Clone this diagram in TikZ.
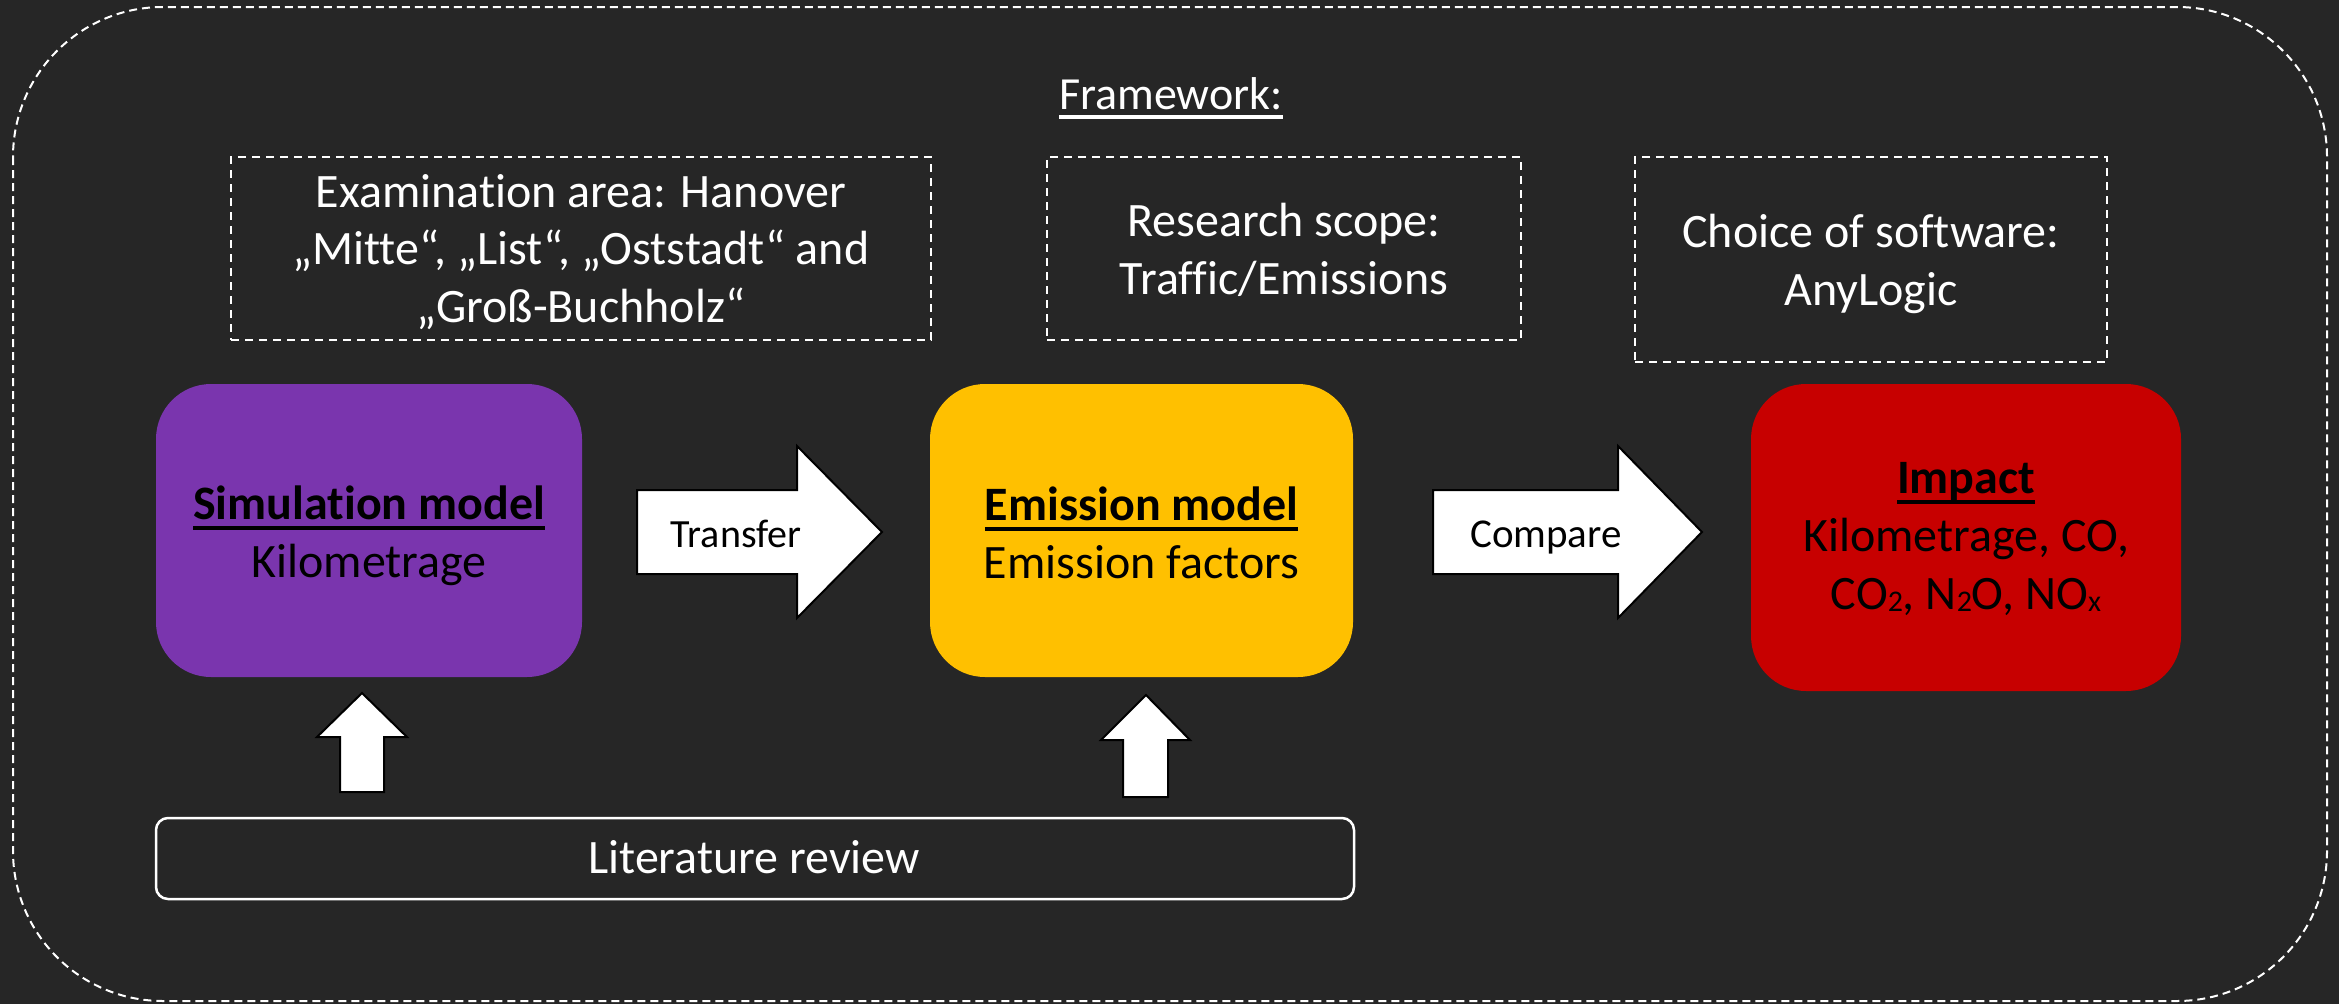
\documentclass[tikz,border=0pt]{standalone}
\usepackage{fontspec}
\setmainfont{Carlito}[Ligatures={NoCommon}]
\definecolor{bgdark}{HTML}{262626}
\definecolor{simpurple}{HTML}{7A35AE}
\definecolor{emyellow}{HTML}{FFC000}
\definecolor{impred}{HTML}{C70000}
% underline at a fixed distance below the baseline
\newcommand\undl[1]{\setbox0\hbox{#1}\leavevmode\rlap{\copy0}\rule[-10pt]{\wd0}{4pt}}
% small subscript sitting near the baseline
\newcommand\subs[1]{\raisebox{-2pt}{\fontsize{30}{30}\selectfont #1}}
\begin{document}
\begin{tikzpicture}[x=1pt,y=-1pt,
  dashbox/.style={draw=white, line width=2pt, dash pattern=on 8pt off 6pt, inner sep=0pt},
  modelbox/.style={rounded corners=55pt, inner sep=0pt},
  whitetext/.style={text=white, align=center, inner sep=0pt, font=\fontsize{48}{57.5}\selectfont},
  blacktext/.style={text=black, align=center, inner sep=0pt, font=\fontsize{48}{58}\selectfont},
  arrowtext/.style={text=black, inner sep=0pt, font=\fontsize{40}{48}\selectfont},
  blockarrow/.style={draw=black, line width=2pt, fill=white, line join=miter}]
\useasboundingbox (0,0) rectangle (2339,1004);
\fill[bgdark] (0,0) rectangle (2339,1004);

% outer framework frame
\draw[white, line width=2pt, dash pattern=on 8pt off 5pt, rounded corners=150pt]
  (13,7) rectangle (2327,1001);
\node[whitetext, anchor=base, font=\fontsize{46}{55}\selectfont] (title) at (1171,109) {\undl{Framework:}};

% framework conditions
\node[dashbox, minimum width=700pt, minimum height=183pt] (exam) at (581,248.5) {};
\node[whitetext] (examtext) at (581,252) {Examination area: Hanover\\„Mitte“, „List“, „Oststadt“ and\\„Groß-Buchholz“};
\node[dashbox, minimum width=474pt, minimum height=183pt] (scope) at (1284,248.5) {};
\node[whitetext, font=\fontsize{48}{58}\selectfont] (scopetext) at (1284,250) {Research scope:\\Traffic/Emissions};
\node[dashbox, minimum width=472pt, minimum height=205pt] (soft) at (1871,259.5) {};
\node[whitetext, font=\fontsize{48}{58}\selectfont] (softtext) at (1871,264) {Choice of software:\\AnyLogic};

% models
\node[modelbox, fill=simpurple, minimum width=426pt, minimum height=293pt] (sim) at (369,530.5) {};
\node[blacktext] (simtext) at (369,536) {\undl{\bfseries Simulation model}\\Kilometrage};
\node[modelbox, fill=emyellow, minimum width=423pt, minimum height=293pt] (em) at (1141.5,530.5) {};
\node[blacktext] (emtext) at (1141.5,533) {\undl{\bfseries Emission model}\\Emission factors};
\node[modelbox, fill=impred, minimum width=430pt, minimum height=307pt] (imp) at (1966,537.5) {};
\node[blacktext] (imptext) at (1966,539) {\undl{\bfseries Impact}\\Kilometrage, CO,\\CO\subs{2}, N\subs{2}O, NO\subs{x}};

% literature review
\node[draw=white, line width=2.5pt, rounded corners=12pt, minimum width=1198pt, minimum height=81pt, inner sep=0pt] (lit) at (755,858.5) {};
\node[whitetext, anchor=base] (littext) at (754,873) {Literature review};

% block arrows
\draw[blockarrow] (637,490) -- (797,490) -- (797,446) -- (882,532) -- (797,618) -- (797,574) -- (637,574) -- cycle;
\node[arrowtext, anchor=base] (transfer) at (736,547) {Transfer};
\draw[blockarrow] (1433,490) -- (1618,490) -- (1618,446) -- (1702,532) -- (1618,618) -- (1618,574) -- (1433,574) -- cycle;
\node[arrowtext, anchor=base, font=\fontsize{41}{49}\selectfont] (compare) at (1546,547) {Compare};
\draw[blockarrow] (340,792) -- (340,737) -- (317,737) -- (362,693) -- (407,737) -- (384,737) -- (384,792) -- cycle;
\draw[blockarrow] (1123,797) -- (1123,740) -- (1101,740) -- (1146,695) -- (1190,740) -- (1168,740) -- (1168,797) -- cycle;
\end{tikzpicture}
\end{document}
